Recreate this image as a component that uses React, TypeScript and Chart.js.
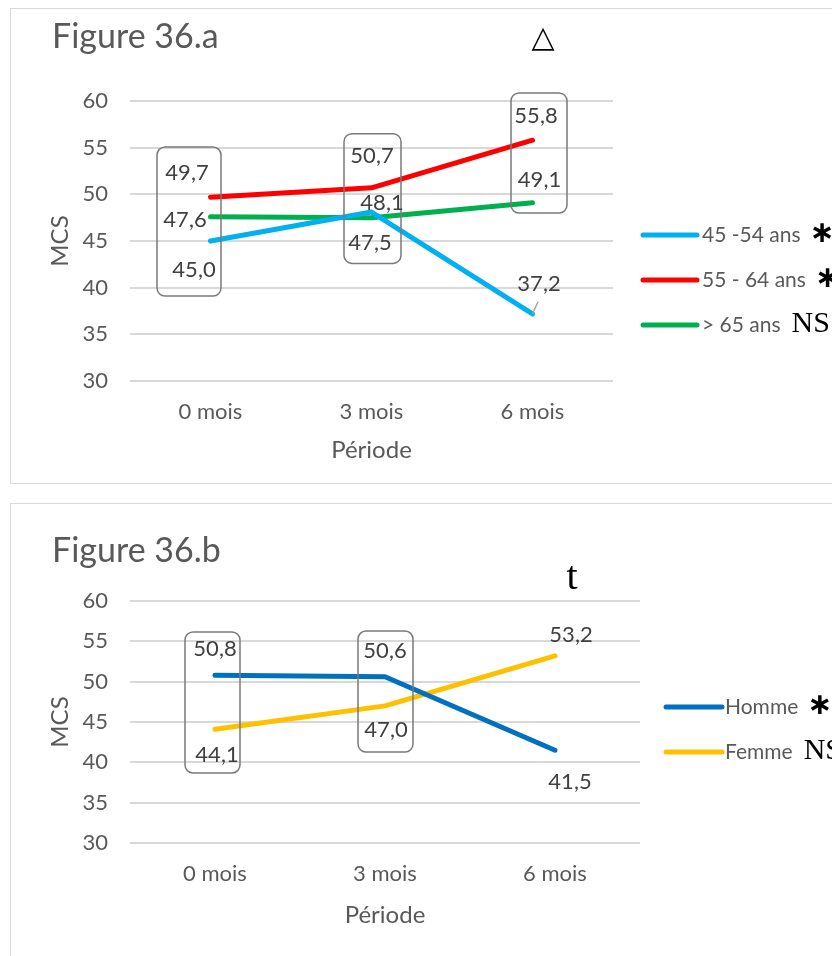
import React, { useEffect, useRef } from 'react';
import { Chart, registerables } from 'chart.js';
Chart.register(...registerables);

// ---------- data ----------
const periods = ['0 mois', '3 mois', '6 mois'];
const yTicks = [30, 35, 40, 45, 50, 55, 60];

const ageGroups = ['45 -54 ans', '55 - 64 ans', '> 65 ans'];
const ageSignif = ['∗', '∗', 'NS'];
const age4554 = [45.0, 48.1, 37.2];
const age5564 = [49.7, 50.7, 55.8];
const age65 = [47.6, 47.5, 49.1];

const sexes = ['Homme', 'Femme'];
const sexSignif = ['∗', 'NS'];
const homme = [50.8, 50.6, 41.5];
const femme = [44.1, 47.0, 53.2];

// ---------- styles ----------
const FONT = 'Lato, "Open Sans", sans-serif';
const GRAY = '#595959';
const LABEL = '#404040';

const fmt = (v: number) => v.toFixed(1).replace('.', ',');

const decorPlugin = {
  id: 'decor',
  afterDatasetsDraw(chart: any, _args: any, opts: any) {
    const ctx = chart.ctx;
    const xs = chart.scales.x;
    const ys = chart.scales.y;
    ctx.save();
    // boxes
    ctx.strokeStyle = '#7a7a7a';
    ctx.lineWidth = 1.5;
    (opts.boxes || []).forEach((b: any) => {
      const cx = xs.getPixelForValue(b.i) + b.dx;
      const t = ys.getPixelForValue(b.top);
      const bt = ys.getPixelForValue(b.bottom);
      const l = cx - b.w / 2;
      ctx.beginPath();
      (ctx as any).roundRect(l, t, b.w, bt - t, 8);
      ctx.stroke();
    });
    // leaders
    ctx.strokeStyle = '#a6a6a6';
    ctx.lineWidth = 1.5;
    (opts.leaders || []).forEach((ld: any) => {
      const p = chart.getDatasetMeta(ld.ds).data[ld.i];
      ctx.beginPath();
      ctx.moveTo(p.x, p.y);
      ctx.lineTo(p.x + ld.dx, p.y + ld.dy);
      ctx.stroke();
    });
    // data labels
    ctx.fillStyle = LABEL;
    ctx.font = `22px ${FONT}`;
    ctx.textAlign = 'center';
    ctx.textBaseline = 'middle';
    chart.data.datasets.forEach((ds: any, di: number) => {
      const meta = chart.getDatasetMeta(di);
      meta.data.forEach((pt: any, i: number) => {
        const [dx, dy] = opts.offsets[di][i];
        ctx.fillText(fmt(ds.data[i]), pt.x + dx, pt.y + dy);
      });
    });
    ctx.restore();
  },
  afterDraw(chart: any, _args: any, opts: any) {
    const ctx = chart.ctx;
    ctx.save();
    // title
    ctx.fillStyle = GRAY;
    ctx.font = `34px ${FONT}`;
    ctx.textAlign = 'left';
    ctx.textBaseline = 'alphabetic';
    ctx.fillText(opts.title, opts.titleX, opts.titleY);
    // marker
    ctx.fillStyle = '#000';
    ctx.font = opts.markerFont;
    ctx.textAlign = 'center';
    ctx.textBaseline = opts.markerBaseline;
    ctx.fillText(opts.marker, opts.markerX, opts.markerY);
    // legend
    const lg = opts.legend;
    chart.data.datasets.forEach((ds: any, i: number) => {
      const y = lg.ys[i];
      ctx.strokeStyle = ds.borderColor;
      ctx.lineWidth = 5;
      ctx.lineCap = 'round';
      ctx.beginPath();
      ctx.moveTo(lg.x0, y);
      ctx.lineTo(lg.x1, y);
      ctx.stroke();
      ctx.fillStyle = GRAY;
      ctx.font = `21px ${FONT}`;
      ctx.textAlign = 'left';
      ctx.textBaseline = 'middle';
      ctx.fillText(ds.label, lg.tx, y);
      const w = ctx.measureText(ds.label).width;
      const sig = lg.sig[i];
      ctx.fillStyle = '#000';
      if (sig === 'NS') {
        ctx.font = `30px "Liberation Serif", serif`;
        ctx.textBaseline = 'alphabetic';
        ctx.fillText(sig, lg.tx + w + 11, y + 7);
      } else {
        ctx.font = `bold 30px "DejaVu Sans", sans-serif`;
        ctx.textBaseline = 'middle';
        ctx.fillText(sig, lg.tx + w + 9, y - 1);
      }
    });
    ctx.restore();
  },
};

function buildConfig(p: any) {
  return {
    type: 'line',
    data: {
      labels: periods,
      datasets: p.series.map((s: any) => ({
        label: s.label,
        data: s.data,
        borderColor: s.color,
        backgroundColor: s.color,
        borderWidth: 5,
        borderCapStyle: 'round',
        borderJoinStyle: 'round',
        pointRadius: 0,
        tension: 0,
        fill: false,
      })),
    },
    options: {
      responsive: false,
      animation: false,
      events: [],
      layout: { padding: p.padding },
      plugins: {
        legend: { display: false },
        tooltip: { enabled: false },
        decor: p.decor,
      },
      scales: {
        x: {
          type: 'category',
          offset: true,
          grid: { display: false, drawTicks: false },
          border: { display: false },
          ticks: { color: GRAY, font: { family: FONT, size: 22, lineHeight: 1 }, padding: 20 },
          title: {
            display: true,
            text: 'Période',
            color: GRAY,
            font: { family: FONT, size: 24, lineHeight: 1 },
            padding: { top: 0, bottom: p.xTitlePad },
          },
          afterFit(s: any) { s.height = 90; },
        },
        y: {
          min: 30,
          max: 60,
          afterBuildTicks(s: any) { s.ticks = yTicks.map((v) => ({ value: v })); },
          grid: { color: '#d9d9d9', lineWidth: 2, drawTicks: false },
          border: { display: false },
          ticks: { color: GRAY, font: { family: FONT, size: 22, lineHeight: 1 }, padding: 22 },
          title: {
            display: true,
            text: 'MCS',
            color: GRAY,
            font: { family: FONT, size: 24, lineHeight: 1 },
            padding: { top: 8, bottom: 0 },
          },
          afterFit(s: any) { s.width = 90; },
        },
      },
    },
    plugins: [decorPlugin],
  };
}

const panelA = {
  height: 495,
  top: 0,
  padding: { left: 40, right: 219, top: 101, bottom: 24 },
  xTitlePad: 9,
  series: [
    { label: ageGroups[0], data: age4554, color: '#00B0F0' },
    { label: ageGroups[1], data: age5564, color: '#FF0000' },
    { label: ageGroups[2], data: age65, color: '#00B050' },
  ],
  decor: {
    title: 'Figure 36.a', titleX: 52, titleY: 48,
    marker: '△', markerFont: '30px "DejaVu Sans", sans-serif', markerBaseline: 'middle', markerX: 543, markerY: 39,
    legend: { x0: 643, x1: 697, tx: 702, ys: [235, 280, 325], sig: ageSignif },
    boxes: [
      { i: 0, dx: -21.5, w: 64, top: 55.07, bottom: 39.1 },
      { i: 1, dx: 1, w: 57, top: 56.5, bottom: 42.6 },
      { i: 2, dx: 6.5, w: 56, top: 60.86, bottom: 48.0 },
    ],
    offsets: [
      [[-16.5, 29], [10.5, -9], [6.5, -30]],
      [[-23.5, -24], [0.5, -32], [3.5, -24]],
      [[-25.5, 3], [-1.5, 25], [7, -23]],
    ],
    leaders: [{ ds: 0, i: 2, dx: 5.5, dy: -12 }],
  },
};

const panelB = {
  height: 461,
  top: 495,
  padding: { left: 40, right: 192, top: 106, bottom: 23 },
  xTitlePad: 6,
  series: [
    { label: sexes[0], data: homme, color: '#0070C0' },
    { label: sexes[1], data: femme, color: '#FFC000' },
  ],
  decor: {
    title: 'Figure 36.b', titleX: 52, titleY: 67,
    marker: 't', markerFont: '40px "Liberation Serif", serif', markerBaseline: 'alphabetic', markerX: 572, markerY: 94,
    legend: { x0: 666, x1: 722, tx: 725, ys: [212, 257], sig: sexSignif },
    boxes: [
      { i: 0, dx: -2.5, w: 55, top: 56.16, bottom: 38.68 },
      { i: 1, dx: 0.5, w: 55, top: 56.28, bottom: 41.28 },
    ],
    offsets: [
      [[0, -26], [0, -26], [15, 32]],
      [[2, 26], [1, 24], [16, -21]],
    ],
    leaders: [],
  },
};

function Panel({ p }: { p: any }) {
  const ref = useRef<HTMLCanvasElement>(null);
  useEffect(() => {
    const chart = new Chart(ref.current as HTMLCanvasElement, buildConfig(p) as any);
    return () => chart.destroy();
  }, []);
  return (
    <canvas
      ref={ref}
      width={832}
      height={p.height}
      style={{ position: 'absolute', left: 0, top: p.top, width: 832, height: p.height, display: 'block' }}
    />
  );
}

export default function App() {
  return (
    <div style={{ position: 'absolute', left: 0, top: 0, width: 832, height: 956, overflow: 'hidden', background: '#fff' }}>
      <div style={{ position: 'absolute', left: 10, top: 8, width: 840, height: 476, border: '1px solid #d9d9d9', boxSizing: 'border-box' }} />
      <div style={{ position: 'absolute', left: 10, top: 503, width: 840, height: 500, border: '1px solid #d9d9d9', boxSizing: 'border-box' }} />
      <Panel p={panelA} />
      <Panel p={panelB} />
    </div>
  );
}
